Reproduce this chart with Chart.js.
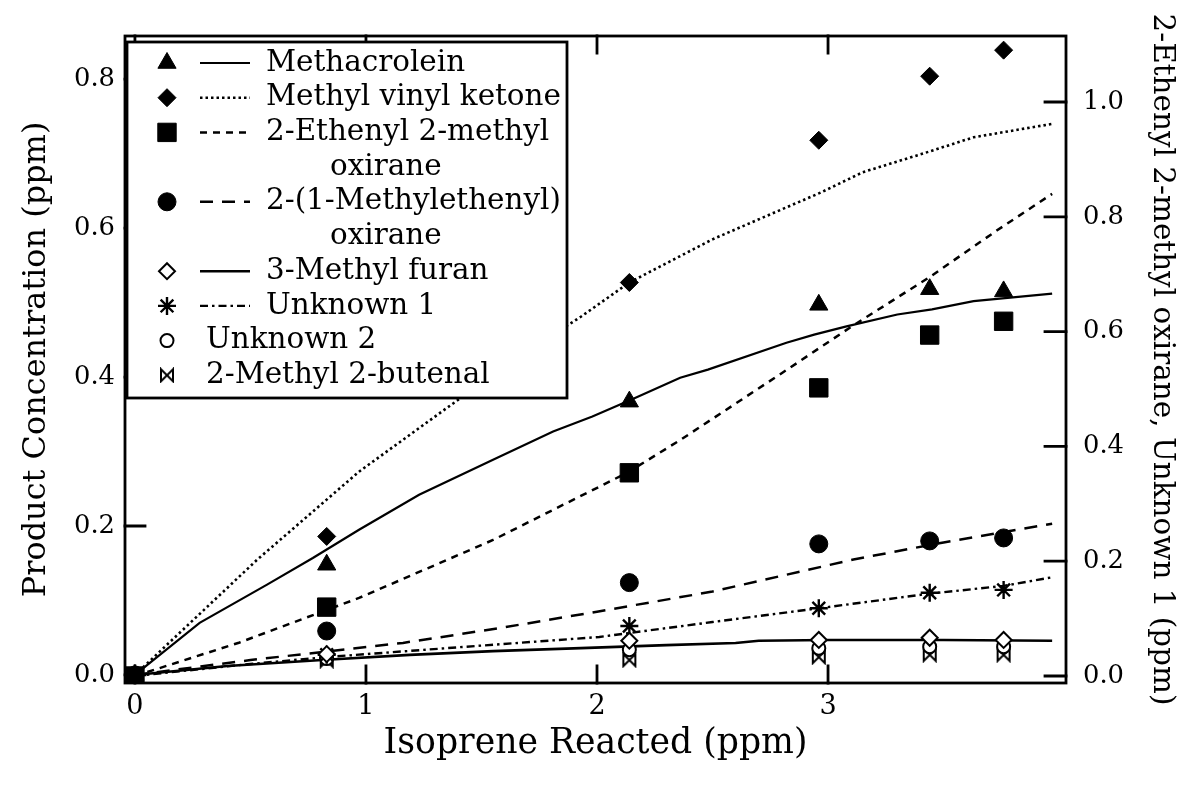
<!DOCTYPE html>
<html>
<head>
<meta charset="utf-8">
<script src="https://cdn.jsdelivr.net/npm/chart.js@4.4.1/dist/chart.umd.min.js"></script>
<style>
  html, body { margin: 0; padding: 0; background: #fff; }
  canvas { display: block; }
</style>
</head>
<body>
<canvas id="chart" width="1181" height="786"></canvas>
<script>
// ---- Sampling points: isoprene reacted (ppm) ----
const runX = [0, 0.83, 2.14, 2.96, 3.44, 3.76];

// ---- Measured products on the left axis (ppm) ----
const methacroleinObs          = [0, 0.148, 0.367, 0.497, 0.518, 0.515];
const mvkObs                   = [0, 0.186, 0.527, 0.718, 0.804, 0.839];
const methylethenylOxiraneObs  = [0, 0.059, 0.124, 0.176, 0.180, 0.184];
const methylFuranObs           = [0, 0.028, 0.046, 0.047, 0.050, 0.047];
const unknown2Obs              = [0, 0.022, 0.034, 0.036, 0.038, 0.038];
const methylButenalObs         = [0, 0.019, 0.020, 0.024, 0.027, 0.027];

// ---- Measured products on the right axis (ppm) ----
const ethenylOxiraneObs        = [0, 0.120, 0.354, 0.502, 0.594, 0.618];
const unknown1Obs              = [0, 0.037, 0.087, 0.118, 0.145, 0.150];

// ---- Model curves ----
const methacroleinFitX = [0, 0.28, 0.57, 0.77, 0.97, 1.23, 1.55, 1.81, 1.98, 2.15, 2.36, 2.48, 2.82, 2.94, 3.08, 3.30, 3.45, 3.63, 3.80, 3.97];
const methacroleinFitY = [0, 0.070, 0.121, 0.157, 0.195, 0.242, 0.289, 0.327, 0.347, 0.370, 0.399, 0.410, 0.446, 0.457, 0.468, 0.484, 0.491, 0.502, 0.507, 0.512];

const mvkFitX = [0, 0.53, 0.97, 1.37, 1.65, 1.93, 2.14, 2.50, 2.97, 3.15, 3.44, 3.63, 3.97];
const mvkFitY = [0, 0.155, 0.273, 0.363, 0.425, 0.481, 0.527, 0.585, 0.648, 0.675, 0.703, 0.722, 0.740];

const ethenylOxiraneFitX = [0, 0.45, 0.97, 1.55, 2.13, 2.36, 2.82, 3.11, 3.44, 3.73, 3.97];
const ethenylOxiraneFitY = [0, 0.058, 0.136, 0.237, 0.354, 0.411, 0.533, 0.611, 0.695, 0.776, 0.840];

const methylethenylOxiraneFitX = [0, 0.5, 1.16, 1.58, 2.0, 2.5, 3.11, 3.5, 3.97];
const methylethenylOxiraneFitY = [0, 0.020, 0.043, 0.063, 0.085, 0.112, 0.155, 0.178, 0.203];

const methylFuranFitX = [0, 0.4, 0.81, 1.19, 1.55, 1.93, 2.3, 2.6, 2.7, 3.0, 3.5, 3.97];
const methylFuranFitY = [0, 0.012, 0.020, 0.027, 0.032, 0.036, 0.040, 0.043, 0.046, 0.047, 0.047, 0.046];

const unknown1FitX = [0, 0.5, 0.83, 1.4, 2.01, 2.5, 2.96, 3.43, 3.76, 3.97];
const unknown1FitY = [0, 0.021, 0.033, 0.050, 0.068, 0.094, 0.118, 0.143, 0.157, 0.172];

// ---- Tick labels ----
const xTickValues     = [0, 1, 2, 3];
const leftTickValues  = [0, 0.2, 0.4, 0.6, 0.8];
const rightTickValues = [0, 0.2, 0.4, 0.6, 0.8, 1.0];

// ---- Text ----
const xTitle     = 'Isoprene Reacted (ppm)';
const leftTitle  = 'Product Concentration (ppm)';
const rightTitle = '2-Ethenyl 2-methyl oxirane, Unknown 1 (ppm)';

// ---- Fonts: sized so each string spans a chosen length ----
const SERIF = '"DejaVu Serif", "Liberation Serif", serif';
const probe = document.createElement('canvas').getContext('2d');
function sizeToSpan(text, span) {
  probe.font = '100px ' + SERIF;
  return 100 * span / probe.measureText(text).width;
}
const xTitleSize     = sizeToSpan(xTitle, 424);
const leftTitleSize  = sizeToSpan(leftTitle, 476);
const rightTitleSize = sizeToSpan(rightTitle, 692);
const legendSize     = sizeToSpan('Methyl vinyl ketone', 295);
const tickSize       = sizeToSpan('0.8', 41);

Chart.defaults.color = '#000';
Chart.defaults.font.family = SERIF;

// Bow-tie marker drawn once into a small canvas
function bowtie(size, lw) {
  const c = document.createElement('canvas');
  c.width = c.height = size + 4;
  const g = c.getContext('2d');
  const o = 2;
  g.lineWidth = lw; g.strokeStyle = '#000'; g.fillStyle = '#fff'; g.lineJoin = 'miter';
  g.beginPath();
  g.moveTo(o, o); g.lineTo(o + size, o + size); g.lineTo(o + size, o); g.lineTo(o, o + size);
  g.closePath(); g.fill(); g.stroke();
  return c;
}
const bowtieMark = bowtie(12, 2);

const pts = (xs, ys) => xs.map((x, i) => ({ x, y: ys[i] }));

function marks(label, values, style, radius, filled, axis) {
  return {
    label, data: pts(runX, values), showLine: false, yAxisID: axis,
    pointStyle: style, pointRadius: radius, pointHoverRadius: radius,
    pointBackgroundColor: filled ? '#000' : '#fff', pointBorderColor: '#000',
    pointBorderWidth: filled ? 1 : 2
  };
}
function curve(label, xs, ys, dash, width, axis) {
  return {
    label, data: pts(xs, ys), showLine: true, yAxisID: axis,
    pointRadius: 0, pointHoverRadius: 0, borderColor: '#000', borderWidth: width,
    borderDash: dash, borderCapStyle: 'butt', fill: false, tension: 0
  };
}

const methacroleinLine = curve('Methacrolein model', methacroleinFitX, methacroleinFitY, [], 2.2, 'y');
const mvkLine          = curve('Methyl vinyl ketone model', mvkFitX, mvkFitY, [2.5, 3], 2.6, 'y');
const ethenylLine      = curve('2-Ethenyl 2-methyl oxirane model', ethenylOxiraneFitX, ethenylOxiraneFitY, [7, 6], 2.5, 'y2');
const methylethenylLine= curve('2-(1-Methylethenyl) oxirane model', methylethenylOxiraneFitX, methylethenylOxiraneFitY, [13, 9], 2.5, 'y');
const furanLine        = curve('3-Methyl furan model', methylFuranFitX, methylFuranFitY, [], 2.6, 'y');
const unknown1Line     = curve('Unknown 1 model', unknown1FitX, unknown1FitY, [8, 4, 2.5, 4], 2.4, 'y2');

const methacroleinMarks  = marks('Methacrolein', methacroleinObs, 'triangle', 10.5, true, 'y');
const mvkMarks           = marks('Methyl vinyl ketone', mvkObs, 'rectRot', 9, true, 'y');
const ethenylMarks       = marks('2-Ethenyl 2-methyl oxirane', ethenylOxiraneObs, 'rect', 13, true, 'y2');
const methylethenylMarks = marks('2-(1-Methylethenyl) oxirane', methylethenylOxiraneObs, 'circle', 9, true, 'y');
const furanMarks         = marks('3-Methyl furan', methylFuranObs, 'rectRot', 8, false, 'y');
const unknown1Marks      = marks('Unknown 1', unknown1Obs, 'star', 9, false, 'y2');
const unknown2Marks      = marks('Unknown 2', unknown2Obs, 'circle', 6.5, false, 'y');
const butenalMarks       = marks('2-Methyl 2-butenal', methylButenalObs, bowtieMark, 7, false, 'y');
unknown1Marks.pointBorderWidth = 2.4;

const legendEntries = [
  { text: ['Methacrolein'], marker: methacroleinMarks, line: methacroleinLine },
  { text: ['Methyl vinyl ketone'], marker: mvkMarks, line: mvkLine },
  { text: ['2-Ethenyl 2-methyl', 'oxirane'], marker: ethenylMarks, line: ethenylLine },
  { text: ['2-(1-Methylethenyl)', 'oxirane'], marker: methylethenylMarks, line: methylethenylLine },
  { text: ['3-Methyl furan'], marker: furanMarks, line: furanLine },
  { text: ['Unknown 1'], marker: unknown1Marks, line: unknown1Line },
  { text: ['Unknown 2'], marker: unknown2Marks, line: null },
  { text: ['2-Methyl 2-butenal'], marker: butenalMarks, line: null }
];

// Plot frame and inward tick marks on all four sides
const frameAndTicks = {
  id: 'frameAndTicks',
  afterDatasetsDraw(chart) {
    const { ctx, chartArea: a, scales: { x, y, y2 } } = chart;
    ctx.save();
    ctx.strokeStyle = '#000';
    ctx.lineWidth = 2.8;
    ctx.lineCap = 'square';
    ctx.strokeRect(a.left, a.top, a.right - a.left, a.bottom - a.top);
    ctx.beginPath();
    xTickValues.forEach(v => {
      const px = x.getPixelForValue(v);
      ctx.moveTo(px, a.bottom); ctx.lineTo(px, a.bottom - 17);
      ctx.moveTo(px, a.top);    ctx.lineTo(px, a.top + 17);
    });
    leftTickValues.forEach(v => {
      const py = y.getPixelForValue(v);
      ctx.moveTo(a.left, py); ctx.lineTo(a.left + 20, py);
    });
    rightTickValues.forEach(v => {
      const py = y2.getPixelForValue(v);
      ctx.moveTo(a.right, py); ctx.lineTo(a.right - 21, py);
    });
    ctx.stroke();
    ctx.restore();
  }
};

// Boxed key in the upper-left corner
const keyBox = {
  id: 'keyBox',
  afterDraw(chart) {
    const ctx = chart.ctx;
    const box = { left: 127, top: 42, right: 567, bottom: 398 };
    const rowTop = 63, rowStep = 34.7;
    const markX = 167, lineFrom = 200, lineTo = 250;
    const textX = 266, bareTextX = 206, wrapX = 330;
    const drawPoint = Chart.helpers && Chart.helpers.drawPoint;

    ctx.save();
    ctx.fillStyle = '#fff';
    ctx.fillRect(box.left, box.top, box.right - box.left, box.bottom - box.top);
    ctx.strokeStyle = '#000';
    ctx.lineWidth = 2.8;
    ctx.strokeRect(box.left, box.top, box.right - box.left, box.bottom - box.top);

    ctx.font = legendSize.toFixed(2) + 'px ' + SERIF;
    ctx.textBaseline = 'middle';
    ctx.textAlign = 'left';

    let row = 0;
    legendEntries.forEach(e => {
      const yy = rowTop + row * rowStep;
      const m = e.marker;
      ctx.fillStyle = m.pointBackgroundColor;
      ctx.strokeStyle = '#000';
      ctx.lineWidth = m.pointBorderWidth;
      ctx.setLineDash([]);
      if (drawPoint) {
        drawPoint(ctx, { pointStyle: m.pointStyle, radius: m.pointRadius, rotation: 0, borderWidth: m.pointBorderWidth }, markX, yy);
      }
      if (e.line) {
        ctx.beginPath();
        ctx.lineWidth = e.line.borderWidth;
        ctx.lineCap = 'butt';
        ctx.setLineDash(e.line.borderDash);
        ctx.moveTo(lineFrom, yy); ctx.lineTo(lineTo, yy);
        ctx.stroke();
        ctx.setLineDash([]);
      }
      ctx.fillStyle = '#000';
      ctx.fillText(e.text[0], e.line ? textX : bareTextX, yy);
      row++;
      if (e.text.length > 1) {
        ctx.fillText(e.text[1], wrapX, rowTop + row * rowStep);
        row++;
      }
    });
    ctx.restore();
  }
};

const fixedTicks = values => scale => { scale.ticks = values.map(v => ({ value: v })); };

new Chart(document.getElementById('chart'), {
  type: 'scatter',
  data: {
    datasets: [
      methacroleinMarks, mvkMarks, ethenylMarks, methylethenylMarks,
      furanMarks, unknown1Marks, unknown2Marks, butenalMarks,
      methacroleinLine, mvkLine, ethenylLine, methylethenylLine, furanLine, unknown1Line
    ]
  },
  options: {
    responsive: false,
    animation: false,
    devicePixelRatio: 1,
    events: [],
    layout: { padding: { top: 36, left: 0, right: 0, bottom: 0 } },
    plugins: { legend: { display: false }, tooltip: { enabled: false } },
    scales: {
      x: {
        type: 'linear', position: 'bottom', min: -0.043, max: 4.03,
        afterBuildTicks: fixedTicks(xTickValues),
        afterFit: s => { s.height = 103; },
        grid: { display: false, drawTicks: false },
        border: { display: false },
        ticks: { autoSkip: false, maxRotation: 0, padding: 8, color: '#000',
                 font: { size: tickSize * 1.05 }, callback: v => String(v) },
        title: { display: true, text: xTitle, color: '#000',
                 font: { size: xTitleSize, lineHeight: 1 }, padding: { top: 0, bottom: 42 - xTitleSize / 2 } }
      },
      y: {
        type: 'linear', position: 'left', min: -0.0108, max: 0.858,
        afterBuildTicks: fixedTicks(leftTickValues),
        afterFit: s => { s.width = 125; },
        grid: { display: false, drawTicks: false },
        border: { display: false },
        ticks: { autoSkip: false, padding: 10, color: '#000',
                 font: { size: tickSize }, callback: v => v.toFixed(1) },
        title: { display: true, text: leftTitle, color: '#000',
                 font: { size: leftTitleSize, lineHeight: 1 }, padding: { top: 37 - leftTitleSize / 2, bottom: 0 } }
      },
      y2: {
        type: 'linear', position: 'right', min: -0.0122, max: 1.115,
        afterBuildTicks: fixedTicks(rightTickValues),
        afterFit: s => { s.width = 115; },
        grid: { display: false, drawTicks: false },
        border: { display: false },
        ticks: { autoSkip: false, padding: 17, color: '#000',
                 font: { size: tickSize }, callback: v => v.toFixed(1) },
        title: { display: true, text: rightTitle, color: '#000',
                 font: { size: rightTitleSize, lineHeight: 1 }, padding: { top: Math.max(0, 19 - rightTitleSize / 2), bottom: 0 } }
      }
    }
  },
  plugins: [frameAndTicks, keyBox]
});
</script>
</body>
</html>
